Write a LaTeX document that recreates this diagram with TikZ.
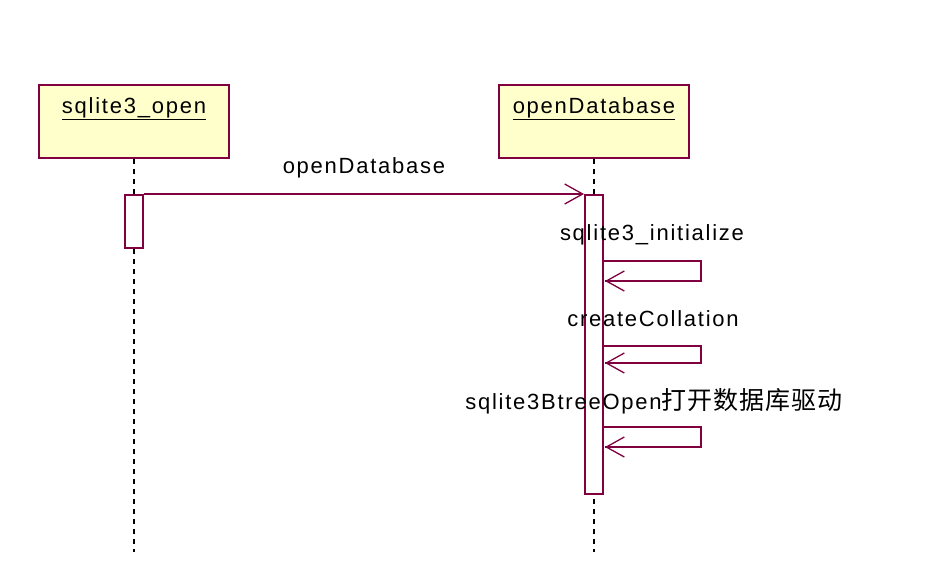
\documentclass[tikz,border=0pt]{standalone}
\usepackage{fontspec}
\setmainfont{Liberation Sans}[LetterSpace=8]
\newfontfamily\cjk{Noto Sans CJK SC}[LetterSpace=4]
\usetikzlibrary{arrows.meta}
\definecolor{umlred}{HTML}{800040}
\definecolor{umlfill}{HTML}{FFFFCC}
\tikzset{
  objbox/.style={draw=umlred, fill=umlfill, line width=2pt, minimum width=190pt, minimum height=73pt, inner sep=0pt},
  actbox/.style={draw=umlred, fill=white, line width=2pt, minimum width=18pt, inner sep=0pt},
  lifeline/.style={draw=black, line width=2pt, dash pattern=on 5pt off 5pt},
  msg/.style={draw=umlred, line width=2pt, -{Straight Barb[length=18pt,width=20pt,line width=1.3pt]}},
  loopline/.style={draw=umlred, line width=2pt},
  lbl/.style={font=\fontsize{22}{24}\selectfont, inner sep=0pt},
}
\begin{document}
\begin{tikzpicture}[x=1pt,y=-1pt]
\useasboundingbox (0,0) rectangle (930,576);
% objects
\node[objbox] (o1) at (134,121.5) {};
\node[objbox] (o2) at (594,121.5) {};
\node[lbl] (t1) at (134,109) {\underline{sqlite3\_open}};
\node[lbl] (t2) at (594,109) {\underline{openDatabase}};
% lifelines
\coordinate (l1end) at (134,552);
\coordinate (l2end) at (594,552);
\draw[lifeline] (o1.south) -- (l1end);
\draw[lifeline] (o2.south) -- (l2end);
% activations
\node[actbox, minimum height=53pt] (a1) at (134,221.5) {};
\node[actbox, minimum height=299pt] (a2) at (594,344.5) {};
% message
\draw[msg] (a1.north east) -- (a2.north west);
\node[lbl] (m1) at (364,168) {openDatabase};
% self calls
\node[lbl] (m2) at (652,235) {sqlite3\_initialize};
\coordinate (s1a) at (603,261);
\coordinate (s1b) at (701,261);
\coordinate (s1c) at (701,281);
\coordinate (s1d) at (605,281);
\draw[loopline] (s1a) -- (s1b) -- (s1c) -- (s1d);
\draw[msg] (s1c) -- (s1d);
\node[lbl] (m3) at (653,319) {createCollation};
\coordinate (s2a) at (603,346);
\coordinate (s2b) at (701,346);
\coordinate (s2c) at (701,363);
\coordinate (s2d) at (605,363);
\draw[loopline] (s2a) -- (s2b) -- (s2c) -- (s2d);
\draw[msg] (s2c) -- (s2d);
\node[lbl] (m4) at (654,401) {sqlite3BtreeOpen{\cjk\fontsize{25}{27}\selectfont 打开数据库驱动}};
\coordinate (s3a) at (603,427);
\coordinate (s3b) at (701,427);
\coordinate (s3c) at (701,447);
\coordinate (s3d) at (605,447);
\draw[loopline] (s3a) -- (s3b) -- (s3c) -- (s3d);
\draw[msg] (s3c) -- (s3d);
\end{tikzpicture}
\end{document}
